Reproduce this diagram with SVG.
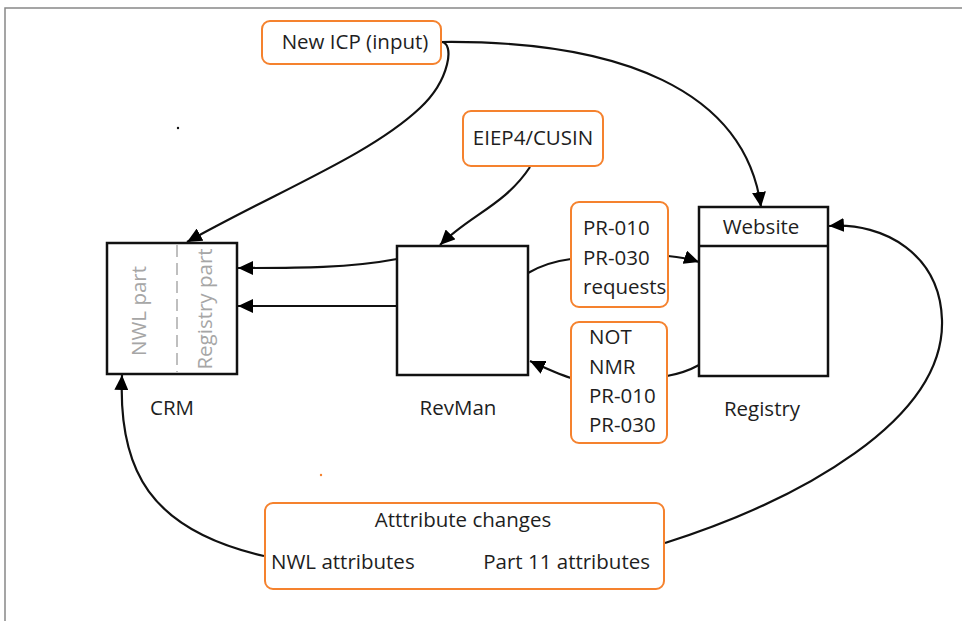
<svg xmlns="http://www.w3.org/2000/svg" width="962" height="621" viewBox="0 0 962 621">
<defs>
<marker id="ah" markerUnits="userSpaceOnUse" markerWidth="16" markerHeight="14" refX="15" refY="7" orient="auto">
<path d="M0,0 L15,7 L0,14 z" fill="#000"/>
</marker>
<style>
.t{font-family:"Open Sans","Liberation Sans",sans-serif;font-size:20.5px;fill:#1e1e1e;}
.g{font-family:"Open Sans","Liberation Sans",sans-serif;font-size:20.5px;fill:#a6a6a6;}
.ob{fill:#fff;stroke:#f5822e;stroke-width:2;}
.bb{fill:#fff;stroke:#111;stroke-width:2.5;}
.c{fill:none;stroke:#111;stroke-width:2.2;}
.ca{fill:none;stroke:#111;stroke-width:2.2;marker-end:url(#ah);}
</style>
</defs>
<rect width="962" height="621" fill="#fff"/>
<path d="M5,621 L5,8 L962,8" fill="none" stroke="#888" stroke-width="1.5"/>
<circle cx="178" cy="128" r="1.2" fill="#111"/>
<circle cx="321" cy="475" r="1.2" fill="#f5822e"/>

<g id="connectors">
<path class="ca" d="M441,42 C455,42 450,80 420,108 C370,155 280,190 187,242"/>
<path class="ca" d="M441,42 C620,40 745,90 761,207"/>
<path class="ca" d="M530,167 C505,205 470,215 440,245"/>
<path class="ca" d="M397,259 C350,268 300,268 238,268"/>
<path class="ca" d="M397,306 L238,306"/>
<path class="c" d="M528,273 C540,266 555,261 571,259"/>
<path class="ca" d="M668,256 C680,257 690,259 699,262"/>
<path class="c" d="M699,365 C690,370 678,374 667,376"/>
<path class="ca" d="M571,378 C558,374 545,368 530,361"/>
<path class="ca" d="M264,556 C150,530 118,470 122,375"/>
<path class="ca" d="M665,543 C800,500 945,420 942,320 C940,255 885,222 829,226"/>
</g>

<g id="new-icp">
<rect class="ob" x="262" y="21" width="179" height="43" rx="8"/>
<text class="t" x="355" y="49" text-anchor="middle">New ICP (input)</text>
</g>
<g id="eiep4">
<rect class="ob" x="463" y="111" width="140" height="55" rx="8"/>
<text class="t" x="533" y="145" text-anchor="middle">EIEP4/CUSIN</text>
</g>
<g id="crm">
<rect class="bb" x="107" y="243" width="130" height="131"/>
<line x1="177" y1="245" x2="177" y2="372" stroke="#aaa" stroke-width="1.5" stroke-dasharray="12,6"/>
<text class="g" transform="translate(146,311) rotate(-90)" text-anchor="middle">NWL part</text>
<text class="g" transform="translate(212,309) rotate(-90)" text-anchor="middle">Registry part</text>
<text class="t" x="172" y="415" text-anchor="middle">CRM</text>
</g>
<g id="revman">
<rect class="bb" x="397" y="246" width="131" height="129"/>
<text class="t" x="458" y="415" text-anchor="middle">RevMan</text>
</g>
<g id="registry">
<rect class="bb" x="699" y="207" width="129" height="169"/>
<line x1="699" y1="246" x2="828" y2="246" stroke="#111" stroke-width="2.5"/>
<text class="t" x="761" y="234" text-anchor="middle">Website</text>
<text class="t" x="762" y="416" text-anchor="middle">Registry</text>
</g>
<g id="requests">
<rect class="ob" x="571" y="202" width="97" height="105" rx="8"/>
<text class="t" x="583" y="235">PR-010</text>
<text class="t" x="583" y="265">PR-030</text>
<text class="t" x="583" y="294">requests</text>
</g>
<g id="notifications">
<rect class="ob" x="571" y="322" width="96" height="121" rx="8"/>
<text class="t" x="589" y="344">NOT</text>
<text class="t" x="589" y="374">NMR</text>
<text class="t" x="589" y="403">PR-010</text>
<text class="t" x="589" y="432">PR-030</text>
</g>
<g id="attribute-changes">
<rect class="ob" x="265" y="503" width="399" height="86" rx="8"/>
<text class="t" x="463" y="527" text-anchor="middle">Atttribute changes</text>
<text class="t" x="271" y="569">NWL attributes</text>
<text class="t" x="650" y="569" text-anchor="end">Part 11 attributes</text>
</g>
</svg>
